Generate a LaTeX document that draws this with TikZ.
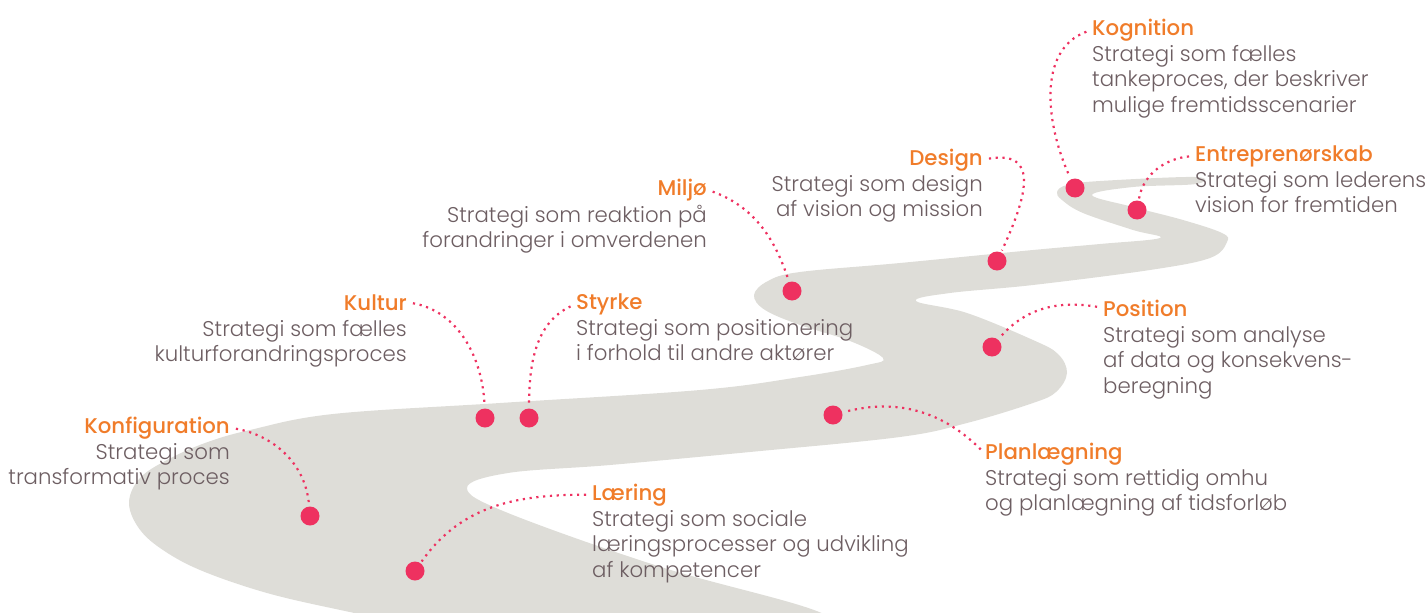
\documentclass[tikz,border=0pt]{standalone}
\usepackage{fontspec}
\usepackage{xcolor}
\usepackage{tikz}
\usetikzlibrary{positioning}
\IfFontExistsTF{Poppins Light}{\setmainfont{Poppins Light}}{\setmainfont{Poppins}}
\IfFontExistsTF{Poppins Medium}{\newfontfamily\headfont{Poppins Medium}}{\newfontfamily\headfontbase{Poppins}\newcommand\headfont{\headfontbase\bfseries}}
\definecolor{roadGray}{HTML}{DEDDD8}
\definecolor{dotRed}{HTML}{EE3160}
\definecolor{headOrange}{HTML}{F07C2A}
\definecolor{textGray}{HTML}{6D5E62}

\begin{document}
\begin{tikzpicture}[
    x=1pt, y=-1pt,
    road/.style={fill=roadGray},
    dot/.style={circle, fill=dotRed, minimum size=19pt, inner sep=0pt},
    head/.style={font=\headfont\fontsize{21.3}{25.5}\selectfont, text=headOrange, inner sep=0pt},
    body/.style={font=\fontsize{21.3}{25.5}\selectfont, text=textGray, inner sep=0pt},
    trail/.style={draw=dotRed, line width=2.2pt, dash pattern=on 2.2pt off 4.6pt,
                  shorten <=6pt, shorten >=2pt}
]
\useasboundingbox (0,0) rectangle (1425,613);

\begin{scope}
\clip (0,0) rectangle (1425,613);
\fill[road] plot[smooth, tension=0.6] coordinates {
    (420,626) (345,611) (267,593) (200,570) (160,548) (138,527) (129,502) (140,478)
    (167,460) (205,443) (250,430) (333,414)
    (500,403) (700,390) (800,377) (867,365) (883,358)
    (850,341) (800,325) (765,310) (754,295) (768,281) (800,272) (900,263)
    (1033,250) (1100,244) (1160,238) (1133,230) (1083,213) (1062,200) (1057,192)
    (1067,185) (1100,181) (1195,177) (1196,184) (1133,187) (1092,195)
    (1133,207) (1183,220) (1222,233) (1227,242) (1210,258) (1150,270) (1033,285)
    (950,293) (916,301) (967,313) (1033,340) (1058,354) (1067,373) (1056,392)
    (1033,403) (967,423) (900,437) (750,452) (610,465) (508,473) (467,488)
    (508,513) (661,567) (814,610) (860,640)
} -- cycle;
\end{scope}

\node[dot] (konfDot) at (310,516) {};
\node[dot] (learDot) at (415,571) {};
\node[dot] (kultDot) at (485,418) {};
\node[dot] (styrDot) at (529,418) {};
\node[dot] (planDot) at (833,415) {};
\node[dot] (posiDot) at (992,347) {};
\node[dot] (miljDot) at (792,291) {};
\node[dot] (desiDot) at (997,261) {};
\node[dot] (kognDot) at (1075,188) {};
\node[dot] (entrDot) at (1137,210) {};

\node[head, anchor=base east] (konf) at (230,433) {Konfiguration};
\node[body, align=right, below left=10pt and 0pt of konf.base east] (konfTxt) {Strategi som\\transformativ proces};
\node[head, anchor=base west] (lear) at (592,500) {Læring};
\node[body, align=left, below right=10pt and 0pt of lear.base west] (learTxt) {Strategi som sociale\\læringsprocesser og udvikling\\af kompetencer};
\node[head, anchor=base east] (kult) at (407,310) {Kultur};
\node[body, align=right, below left=10pt and 0pt of kult.base east] (kultTxt) {Strategi som fælles\\kulturforandringsproces};
\node[head, anchor=base west] (styr) at (576,309) {Styrke};
\node[body, align=left, below right=10pt and 0pt of styr.base west] (styrTxt) {Strategi som positionering\\i forhold til andre aktører};
\node[head, anchor=base east] (milj) at (707,195) {Miljø};
\node[body, align=right, below left=10pt and 0pt of milj.base east] (miljTxt) {Strategi som reaktion på\\forandringer i omverdenen};
\node[head, anchor=base east] (desi) at (983,165) {Design};
\node[body, align=right, below left=10pt and 0pt of desi.base east] (desiTxt) {Strategi som design\\af vision og mission};
\node[head, anchor=base west] (kogn) at (1092,35) {Kognition};
\node[body, align=left, below right=10pt and 0pt of kogn.base west] (kognTxt) {Strategi som fælles\\tankeproces, der beskriver\\mulige fremtidsscenarier};
\node[head, anchor=base west] (entr) at (1195,161) {Entreprenørskab};
\node[body, align=left, below right=10pt and 0pt of entr.base west] (entrTxt) {Strategi som lederens\\vision for fremtiden};
\node[head, anchor=base west] (posi) at (1103,316) {Position};
\node[body, align=left, below right=10pt and 0pt of posi.base west] (posiTxt) {Strategi som analyse\\af data og konsekvens-\\beregning};
\node[head, anchor=base west] (plan) at (985,459) {Planlægning};
\node[body, align=left, below right=10pt and 0pt of plan.base west] (planTxt) {Strategi som rettidig omhu\\og planlægning af tidsforløb};

\draw[trail] (konf.east) to[out=-10, in=95] (konfDot);
\draw[trail] (lear.west) to[out=180, in=55] (learDot);
\draw[trail] (kult.east) to[out=-10, in=92] (kultDot);
\draw[trail] (styr.west) to[out=205, in=90] (styrDot);
\draw[trail] (milj.east) to[out=-20, in=108] (miljDot);
\draw[trail] (desi.east) to[out=10, in=65, looseness=1.6] (desiDot);
\draw[trail] (kogn.west) to[out=200, in=115] (kognDot);
\draw[trail] (entr.west) to[out=185, in=80] (entrDot);
\draw[trail] (posi.west) to[out=170, in=50] (posiDot);
\draw[trail] (plan.west) to[out=135, in=15] (planDot);

\end{tikzpicture}
\end{document}
